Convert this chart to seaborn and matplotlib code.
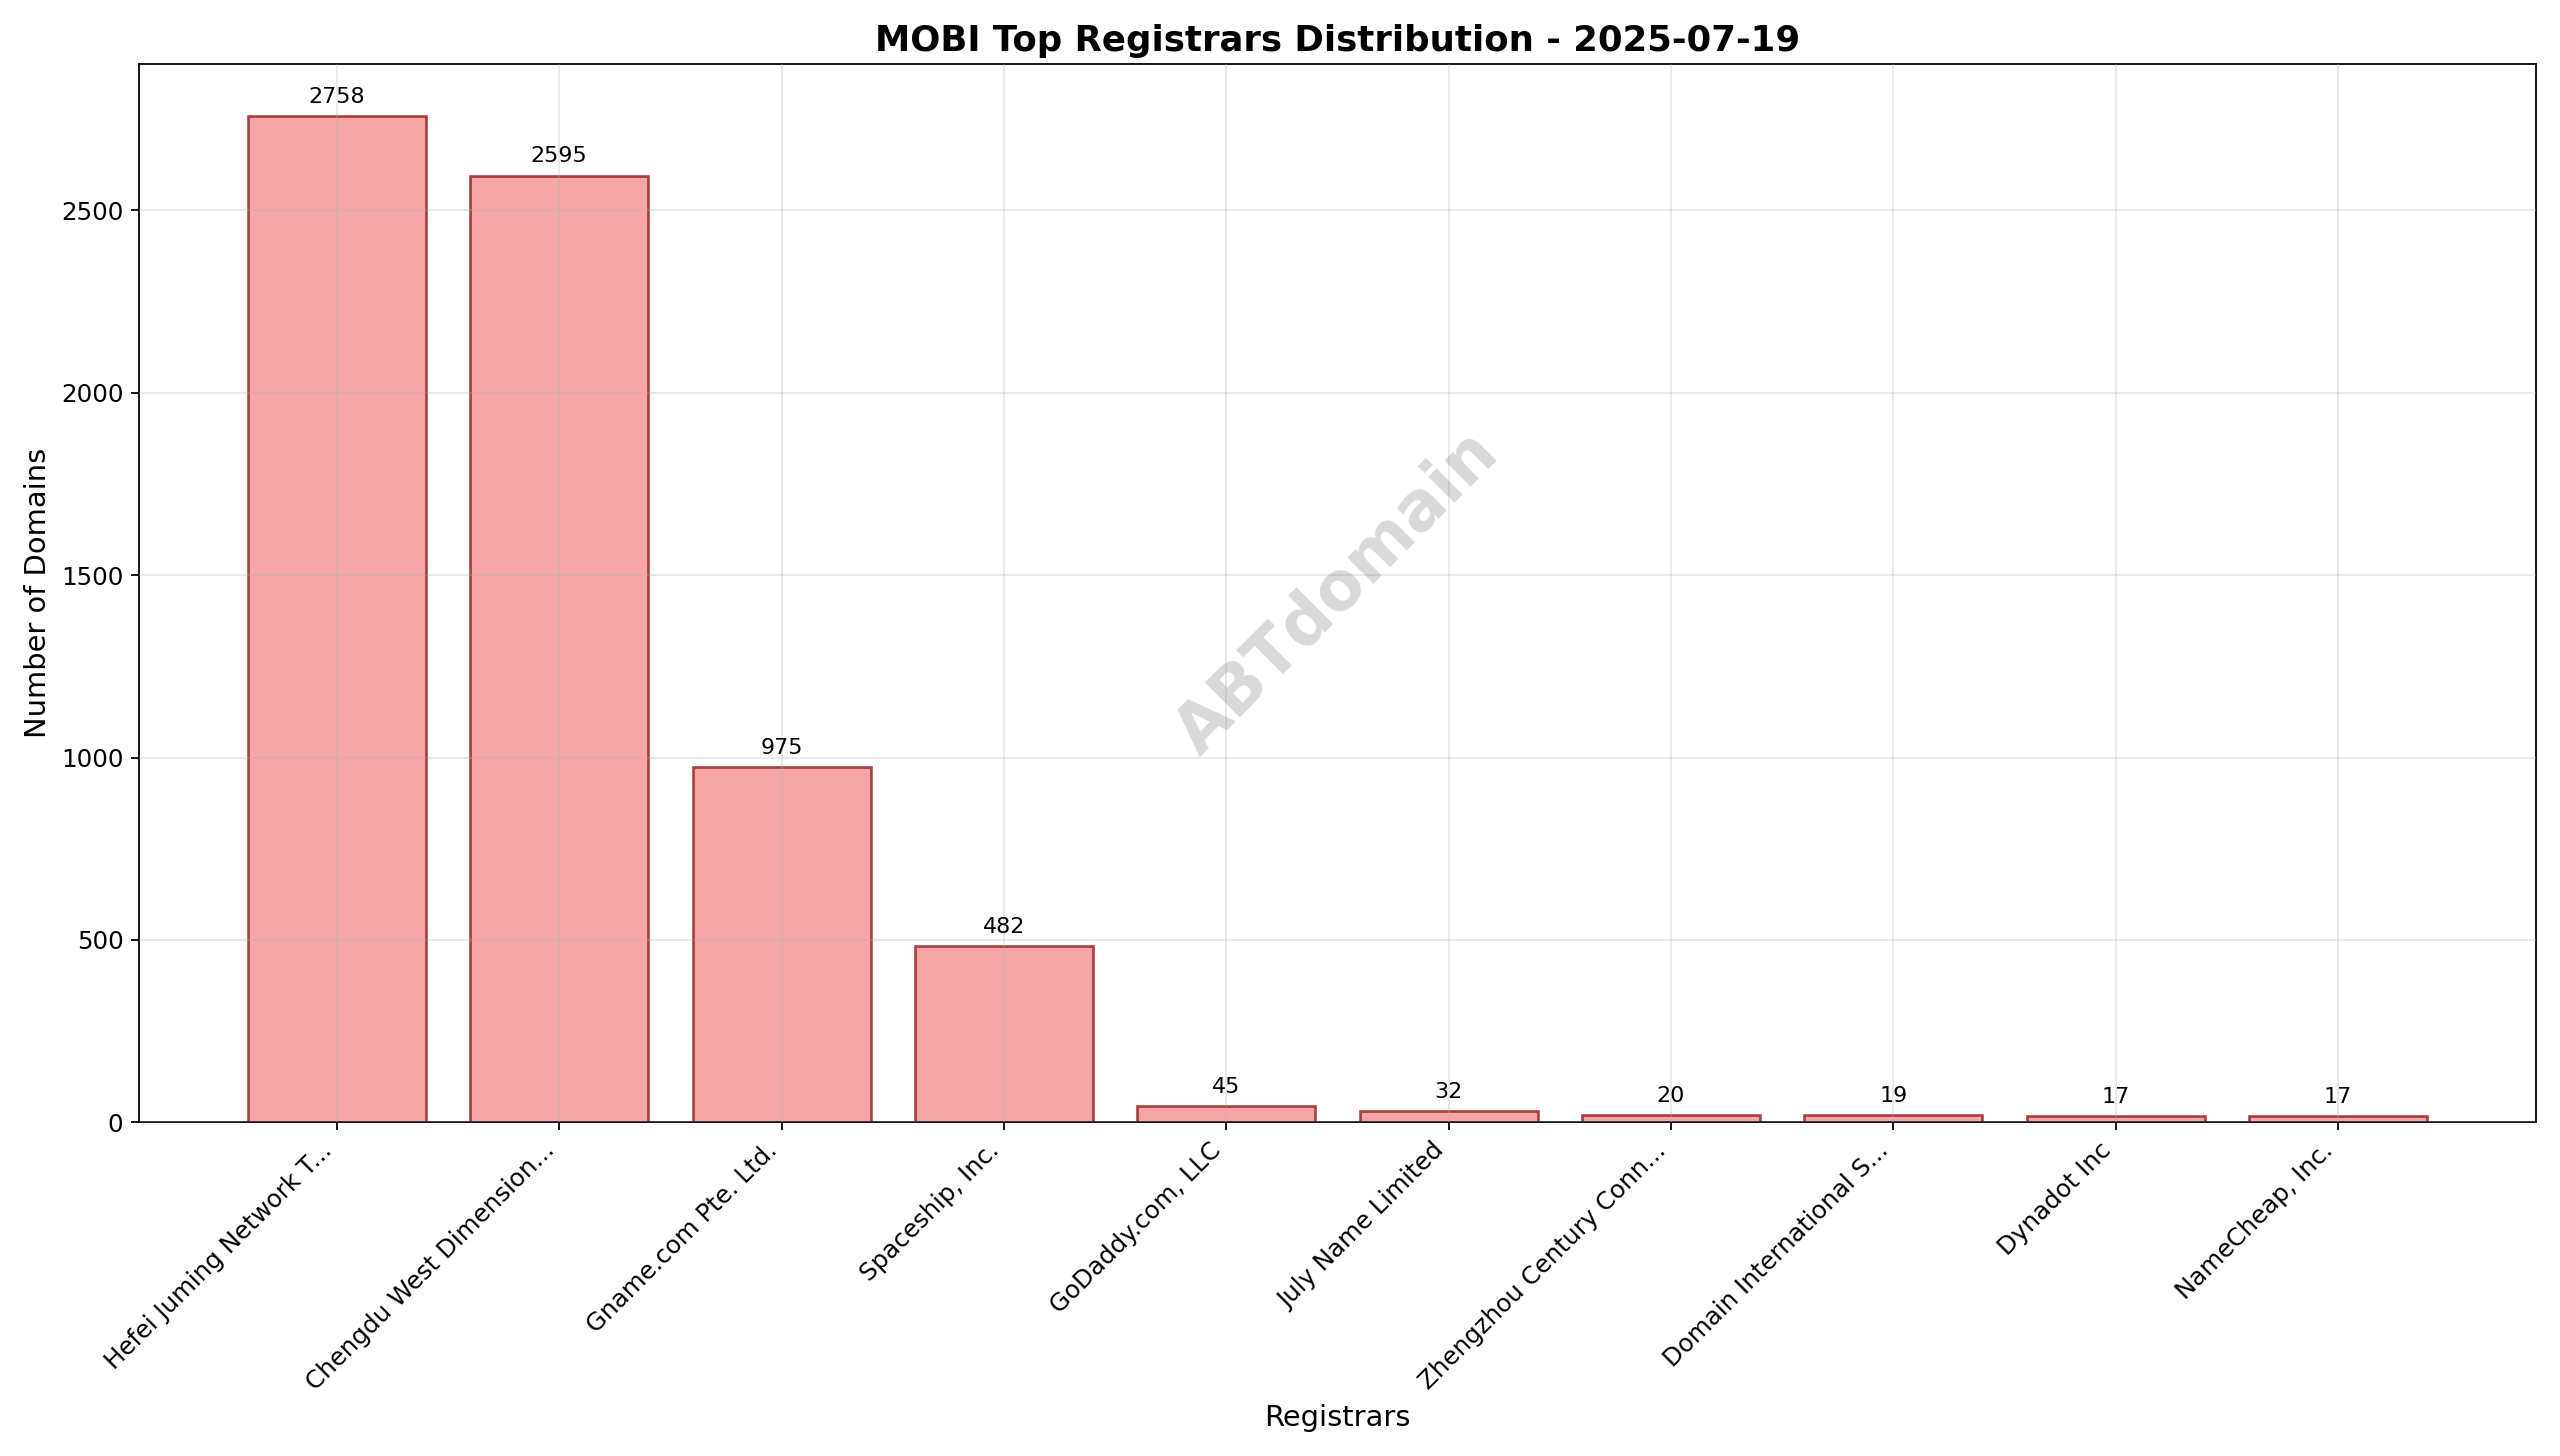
import matplotlib
matplotlib.use("Agg")
import matplotlib.pyplot as plt
import seaborn as sns
import pandas as pd

registrars = ["Hefei Juming Network T...", "Chengdu West Dimension...", "Gname.com Pte. Ltd.",
              "Spaceship, Inc.", "GoDaddy.com, LLC", "July Name Limited",
              "Zhengzhou Century Conn...", "Domain International S...", "Dynadot Inc", "NameCheap, Inc."]
counts = [2758, 2595, 975, 482, 45, 32, 20, 19, 17, 17]

df = pd.DataFrame({"Registrar": registrars, "Count": counts})
fig, ax = plt.subplots(figsize=(16, 9.1), dpi=160)
sns.barplot(data=df, x="Registrar", y="Count", ax=ax, color="lightcoral", alpha=0.7,
            edgecolor="darkred", linewidth=1.2, width=0.8, saturation=1)
for p, v in zip(ax.patches, counts):
    ax.text(p.get_x() + p.get_width() / 2, v + 25, str(v), ha="center", va="bottom", fontsize=10)
ax.set_title("MOBI Top Registrars Distribution - 2025-07-19", fontsize=16, fontweight="bold")
ax.set_xlabel("Registrars", fontsize=13)
ax.set_ylabel("Number of Domains", fontsize=13)
ax.tick_params(labelsize=11)
plt.setp(ax.get_xticklabels(), rotation=45, ha="right")
ax.grid(True, alpha=0.3)
ax.set_axisbelow(False)
ax.set_ylim(0, 2900)
ax.set_xlim(-0.89, len(counts) - 1 + 0.89)
ax.text(0.5, 0.5, "ABTdomain", transform=ax.transAxes, fontsize=30, color="gray", alpha=0.3,
        ha="center", va="center", rotation=45, fontweight="bold")
plt.tight_layout()
plt.savefig("out.png", dpi=160)
